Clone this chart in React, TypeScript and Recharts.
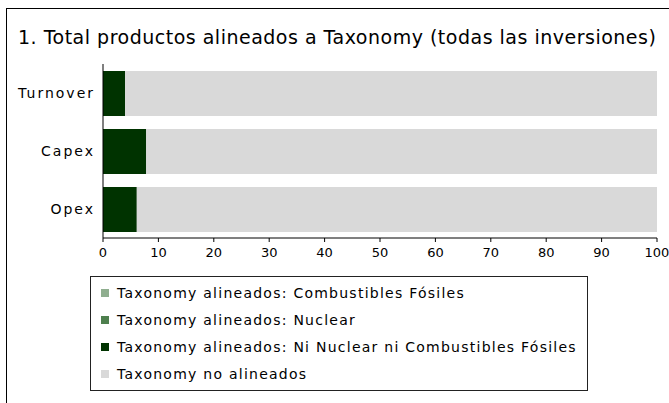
import { Bar, BarChart, XAxis, YAxis } from "recharts";

const categories = ["Turnover", "Capex", "Opex"];
const fossil = [0, 0, 0];
const nuclear = [0, 0, 0];
const otherAligned = [4, 7.8, 6.1];
const notAligned = [96, 92.2, 93.9];
const xTicks = [0, 10, 20, 30, 40, 50, 60, 70, 80, 90, 100];

const series = [
  { key: "fossil", name: "Taxonomy alineados: Combustibles Fósiles", color: "#8fae8f" },
  { key: "nuclear", name: "Taxonomy alineados: Nuclear", color: "#4e7f4e" },
  { key: "other", name: "Taxonomy alineados: Ni Nuclear ni Combustibles Fósiles", color: "#003300" },
  { key: "notAligned", name: "Taxonomy no alineados", color: "#d9d9d9" },
];

const data = categories.map((name, i) => ({
  name,
  fossil: fossil[i],
  nuclear: nuclear[i],
  other: otherAligned[i],
  notAligned: notAligned[i],
}));

const font = "'DejaVu Sans', sans-serif";

function LegendBox() {
  return (
    <div
      style={{
        position: "absolute",
        left: 90,
        top: 276,
        width: 498,
        height: 115,
        border: "1.5px solid #222",
        boxSizing: "border-box",
        padding: "2px 0 0 10px",
        fontFamily: font,
        fontSize: 14,
        letterSpacing: 1.25,
        color: "#000",
      }}
    >
      {series.map((s) => (
        <div key={s.key} style={{ display: "flex", alignItems: "center", height: 27 }}>
          <span style={{ width: 8, height: 8, background: s.color, marginRight: 8, flexShrink: 0 }} />
          <span style={{ whiteSpace: "nowrap" }}>{s.name}</span>
        </div>
      ))}
    </div>
  );
}

export default function App() {
  return (
    <div style={{ position: "absolute", left: 0, top: 0, width: 669, height: 403, overflow: "hidden", background: "#fff" }}>
      <div
        style={{
          position: "absolute",
          left: 6,
          top: 8,
          width: 720,
          height: 460,
          border: "1.5px solid #000",
        }}
      />
      <div
        style={{
          position: "absolute",
          left: 18,
          top: 26,
          fontFamily: font,
          fontSize: 19,
          letterSpacing: 0.5,
          color: "#000",
          whiteSpace: "nowrap",
        }}
      >
        1. Total productos alineados a Taxonomy (todas las inversiones)
      </div>
      <div style={{ position: "absolute", left: 0, top: 0 }}>
        <BarChart
          width={669}
          height={272}
          layout="vertical"
          data={data}
          barSize={45}
          margin={{ top: 64, right: 12, bottom: 4, left: 0 }}
        >
          <XAxis
            type="number"
            domain={[0, 100]}
            ticks={xTicks}
            interval={0}
            tickSize={4}
            tickMargin={6}
            height={30}
            stroke="#000"
            tick={{ fill: "#000", fontSize: 13, fontFamily: font }}
          />
          <YAxis
            type="category"
            dataKey="name"
            width={103}
            tickLine={false}
            stroke="#000"
            tick={{ fill: "#000", fontSize: 14, fontFamily: font, letterSpacing: 2 }}
          />
          {series.map((s) => (
            <Bar key={s.key} dataKey={s.key} name={s.name} stackId="a" fill={s.color} isAnimationActive={false} />
          ))}
        </BarChart>
      </div>
      <LegendBox />
    </div>
  );
}
